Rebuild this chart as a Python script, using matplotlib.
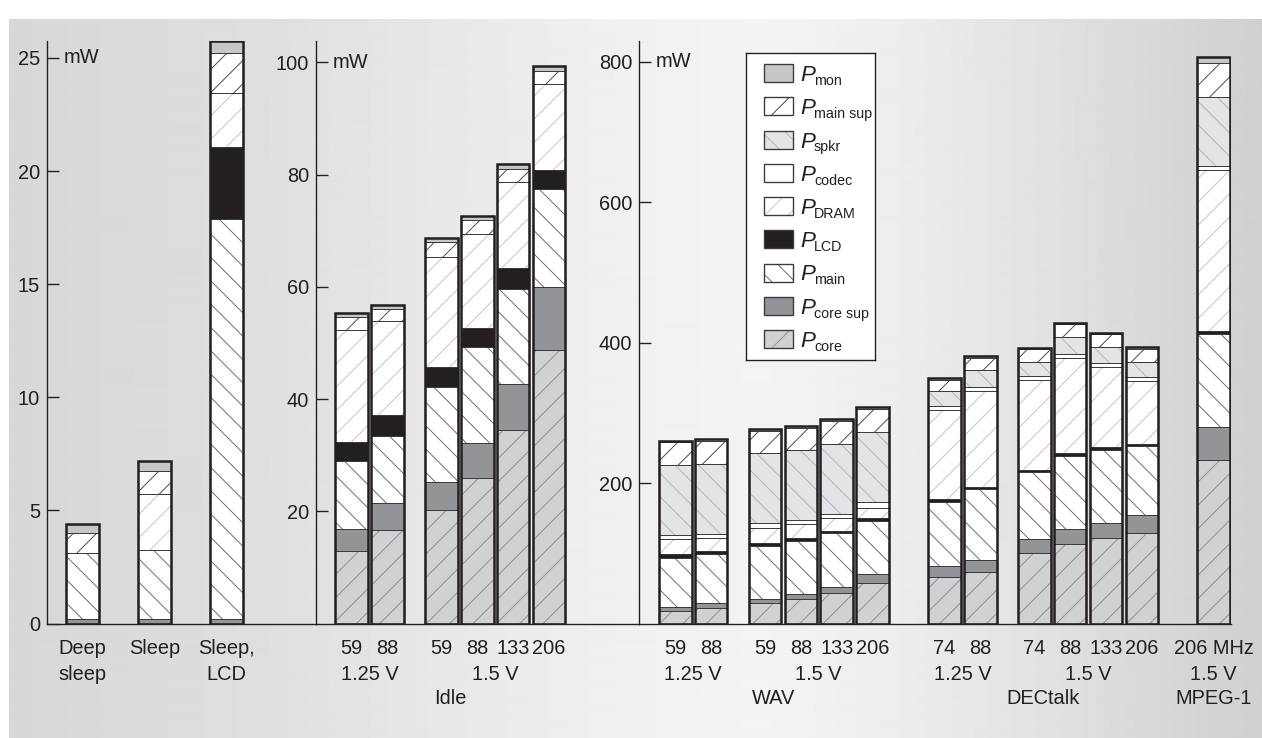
import numpy as np
import matplotlib.pyplot as plt
from matplotlib.patches import Rectangle
from matplotlib.transforms import blended_transform_factory

plt.rcParams['font.family'] = ['Liberation Sans', 'DejaVu Sans']
plt.rcParams['hatch.linewidth'] = 0.5

# ---------------- data (mW) ----------------
# stacking order bottom -> top
components = ['core', 'core sup', 'main', 'LCD', 'DRAM', 'codec', 'spkr', 'main sup', 'mon']

# panel 1: sleep modes
sleep_row1 = ['Deep', 'Sleep', 'Sleep,']
sleep_row2 = ['sleep', '', 'LCD']
sleep_core = [0.0, 0.0, 0.0]
sleep_core_sup = [0.2, 0.2, 0.2]
sleep_main = [2.93, 3.06, 17.68]
sleep_lcd = [0.0, 0.0, 3.17]
sleep_dram = [0.0, 2.46, 2.42]
sleep_codec = [0.0, 0.0, 0.0]
sleep_spkr = [0.0, 0.0, 0.0]
sleep_main_sup = [0.87, 1.02, 1.77]
sleep_mon = [0.38, 0.43, 0.52]

# panel 2: idle
idle_freq = ['59', '88', '59', '88', '133', '206']
idle_core = [13.0, 16.6, 20.2, 25.9, 34.5, 48.7]
idle_core_sup = [3.9, 4.9, 5.1, 6.3, 8.2, 11.3]
idle_main = [12.0, 12.0, 16.8, 17.0, 17.0, 17.4]
idle_lcd = [3.5, 3.6, 3.6, 3.4, 3.6, 3.5]
idle_dram = [19.9, 16.9, 19.7, 16.9, 15.4, 15.2]
idle_codec = [0, 0, 0, 0, 0, 0]
idle_spkr = [0, 0, 0, 0, 0, 0]
idle_main_sup = [2.4, 2.1, 2.6, 2.5, 2.4, 2.4]
idle_mon = [0.7, 0.6, 0.7, 0.6, 0.8, 0.8]

# panel 3: WAV (6), DECtalk (6), MPEG-1 (1)
play_freq = ['59', '88', '59', '88', '133', '206',
             '74', '88', '74', '88', '133', '206', '206 MHz']
play_core = [18.1, 21.4, 28.6, 34.3, 42.9, 57.1,
             66.7, 73.8, 100.0, 112.9, 121.4, 128.6, 233.3]
play_core_sup = [5.7, 7.2, 6.6, 7.6, 9.5, 12.9,
                 15.7, 16.7, 20.5, 21.9, 22.4, 26.2, 46.2]
play_main = [70.0, 70.0, 75.8, 76.2, 76.2, 76.2,
             91.4, 100.9, 94.7, 104.2, 103.8, 97.6, 132.5]
play_lcd = [4.8, 4.3, 3.8, 3.8, 3.8, 4.3,
            3.3, 2.9, 3.8, 3.9, 3.8, 3.8, 4.5]
play_dram = [21.4, 19.0, 21.9, 19.5, 17.6, 14.7,
             127.7, 137.6, 128.6, 135.7, 113.4, 88.6, 229.5]
play_codec = [5.7, 5.7, 6.2, 5.7, 5.7, 7.2,
              5.7, 5.2, 4.8, 5.7, 6.6, 6.2, 5.7]
play_spkr = [100.0, 100.0, 100.0, 99.6, 100.0, 100.5,
             20.5, 23.4, 20.5, 23.8, 22.4, 21.9, 97.9]
play_main_sup = [32.9, 32.9, 31.9, 31.9, 32.9, 32.8,
                 16.6, 18.1, 17.6, 18.1, 18.1, 18.5, 49.3]
play_mon = [1.9, 1.9, 2.3, 2.4, 2.4, 2.3,
            2.4, 2.4, 2.4, 2.4, 2.4, 2.4, 8.5]

legend_order = ['mon', 'main sup', 'spkr', 'codec', 'DRAM', 'LCD', 'main', 'core sup', 'core']

# fill, hatch, hatch colour
styles = {
    'mon': ('#c6c7c9', '', '#c6c7c9'),
    'main sup': ('white', '//', '#4a4a4a'),
    'spkr': ('#e3e4e6', '\\\\', '#b3b4b6'),
    'codec': ('white', '', 'white'),
    'DRAM': ('white', '//', '#c4c5c7'),
    'LCD': ('#231f20', '', '#231f20'),
    'main': ('white', '\\\\', '#6e6e6e'),
    'core sup': ('#939497', '', '#939497'),
    'core': ('#d0d1d3', '//', '#8e8f91'),
}
INK = '#231f20'

# ---------------- layout ----------------
W, H = 1262, 738
DPI = 140
pitch = 35.9          # px between neighbouring bars
bar_w = 0.91          # in pitch units
base_y, top_y = 623.5, 41.0


def group_positions(sizes, gaps, start=1.0):
    pos, x = [], start
    for i, n in enumerate(sizes):
        for _ in range(n):
            pos.append(x)
            x += 1
        if i < len(gaps):
            x += gaps[i] - 1
    return np.array(pos)


fig = plt.figure(figsize=(W / DPI, H / DPI), dpi=DPI)
fig.patch.set_facecolor('white')

# background gradient
bg = fig.add_axes([9 / W, 0, 1 - 9 / W, (H - 19) / H], zorder=-10)
cols = np.arange(9, W)
shade = np.interp(cols, [9, 270, 600, 760, 900, W], [0.845, 0.875, 0.94, 0.955, 0.93, 0.815])
bg.imshow(shade[None, :], aspect='auto', cmap='gray', vmin=0, vmax=1, interpolation='bilinear')
bg.axis('off')


def make_axes(x0_px, x1_px, ymax_tick, ymax):
    ax = fig.add_axes([x0_px / W, (H - base_y) / H, (x1_px - x0_px) / W, (base_y - top_y) / H])
    ax.patch.set_alpha(0)
    ax.set_xlim(0, (x1_px - x0_px) / pitch)
    ax.set_ylim(0, ymax)
    for s in ['top', 'right']:
        ax.spines[s].set_visible(False)
    for s in ['left', 'bottom']:
        ax.spines[s].set_color(INK)
        ax.spines[s].set_linewidth(0.7)
    ax.set_xticks([])
    ax.tick_params(axis='y', direction='in', length=6.2, width=0.7, pad=3.5,
                   labelsize=10.3, colors=INK)
    ax.text(16.6 / (x1_px - x0_px), ymax_tick, 'mW', transform=ax.get_yaxis_transform(),
            ha='left', va='center', fontsize=10.3, color=INK)
    return ax


def draw_stack(ax, x, series):
    bottom = np.zeros(len(x))
    for name, vals in zip(components, series):
        vals = np.asarray(vals, dtype=float)
        fc, hatch, hc = styles[name]
        m = vals > 0
        if m.any():
            ax.bar(x[m], vals[m], bottom=bottom[m], width=bar_w, color=fc, edgecolor=hc,
                   hatch=hatch, linewidth=0, zorder=2)
            ax.bar(x[m], vals[m], bottom=bottom[m], width=bar_w, fill=False,
                   edgecolor='#3a3a3a', linewidth=0.45, zorder=3)
        bottom += vals
    ax.bar(x, bottom, width=bar_w, fill=False, edgecolor=INK, linewidth=1.3, zorder=4)


def row_text(ax, x, y_px, s, **kw):
    tr = blended_transform_factory(ax.transData, fig.transFigure)
    ax.text(x, 1 - y_px / H, s, transform=tr, ha='center', va='center',
            fontsize=10.3, color=INK, **kw)


ROW1, ROW2, ROW3 = 648, 674, 699

# panel 1
ax1 = make_axes(46.7, 315.7, 25, 25 * (base_y - top_y) / (base_y - 58.0))
ax1.set_yticks([0, 5, 10, 15, 20, 25])
x1 = group_positions([1, 1, 1], [2, 2])
draw_stack(ax1, x1, [sleep_core, sleep_core_sup, sleep_main, sleep_lcd, sleep_dram,
                     sleep_codec, sleep_spkr, sleep_main_sup, sleep_mon])
for xi, a, b in zip(x1, sleep_row1, sleep_row2):
    row_text(ax1, xi, ROW1, a)
    row_text(ax1, xi, ROW2, b)

# panel 2
ax2 = make_axes(315.7, 639.3, 100, 100 * (base_y - top_y) / (base_y - 62.5))
ax2.set_yticks([20, 40, 60, 80, 100])
x2 = group_positions([2, 4], [1.5])
draw_stack(ax2, x2, [idle_core, idle_core_sup, idle_main, idle_lcd, idle_dram,
                     idle_codec, idle_spkr, idle_main_sup, idle_mon])
for xi, s in zip(x2, idle_freq):
    row_text(ax2, xi, ROW1, s)
row_text(ax2, x2[:2].mean(), ROW2, '1.25 V')
row_text(ax2, x2[2:].mean(), ROW2, '1.5 V')
row_text(ax2, (x2[0] + x2[-1]) / 2, ROW3, 'Idle')

# panel 3
ax3 = make_axes(639.3, 1231.0, 800, 800 * (base_y - top_y) / (base_y - 62.0))
ax3.set_yticks([200, 400, 600, 800])
x3 = group_positions([2, 4, 2, 4, 1], [1.5, 2, 1.5, 2])
draw_stack(ax3, x3, [play_core, play_core_sup, play_main, play_lcd, play_dram,
                     play_codec, play_spkr, play_main_sup, play_mon])
for xi, s in zip(x3, play_freq):
    row_text(ax3, xi, ROW1, s)
for sl, lab in [(slice(0, 2), '1.25 V'), (slice(2, 6), '1.5 V'),
                (slice(6, 8), '1.25 V'), (slice(8, 12), '1.5 V'), (slice(12, 13), '1.5 V')]:
    row_text(ax3, x3[sl].mean(), ROW2, lab)
row_text(ax3, (x3[0] + x3[5]) / 2, ROW3, 'WAV')
row_text(ax3, (x3[6] + x3[11]) / 2, ROW3, 'DECtalk')
row_text(ax3, x3[12], ROW3, 'MPEG-1')

# legend box
lx0, lx1, ly0, ly1 = 746, 875, 53, 360
lax = fig.add_axes([lx0 / W, (H - ly1) / H, (lx1 - lx0) / W, (ly1 - ly0) / H])
lax.set_xlim(0, lx1 - lx0)
lax.set_ylim(ly1 - ly0, 0)
lax.set_xticks([])
lax.set_yticks([])
lax.set_facecolor('white')
for s in lax.spines.values():
    s.set_color(INK)
    s.set_linewidth(0.7)
for i, name in enumerate(legend_order):
    fc, hatch, hc = styles[name]
    top = 11 + 33.25 * i
    lax.add_patch(Rectangle((18, top), 29, 18, facecolor=fc, edgecolor=hc, hatch=hatch,
                            linewidth=0))
    lax.add_patch(Rectangle((18, top), 29, 18, fill=False, edgecolor='#3a3a3a', linewidth=0.7))
    lax.text(54, top + 17, 'P', style='italic', ha='left', va='baseline',
             fontsize=11.5, color=INK)
    lax.text(68, top + 21, name, ha='left', va='baseline', fontsize=7.3, color=INK)

fig.savefig('out.png', dpi=DPI)
plt.close(fig)
